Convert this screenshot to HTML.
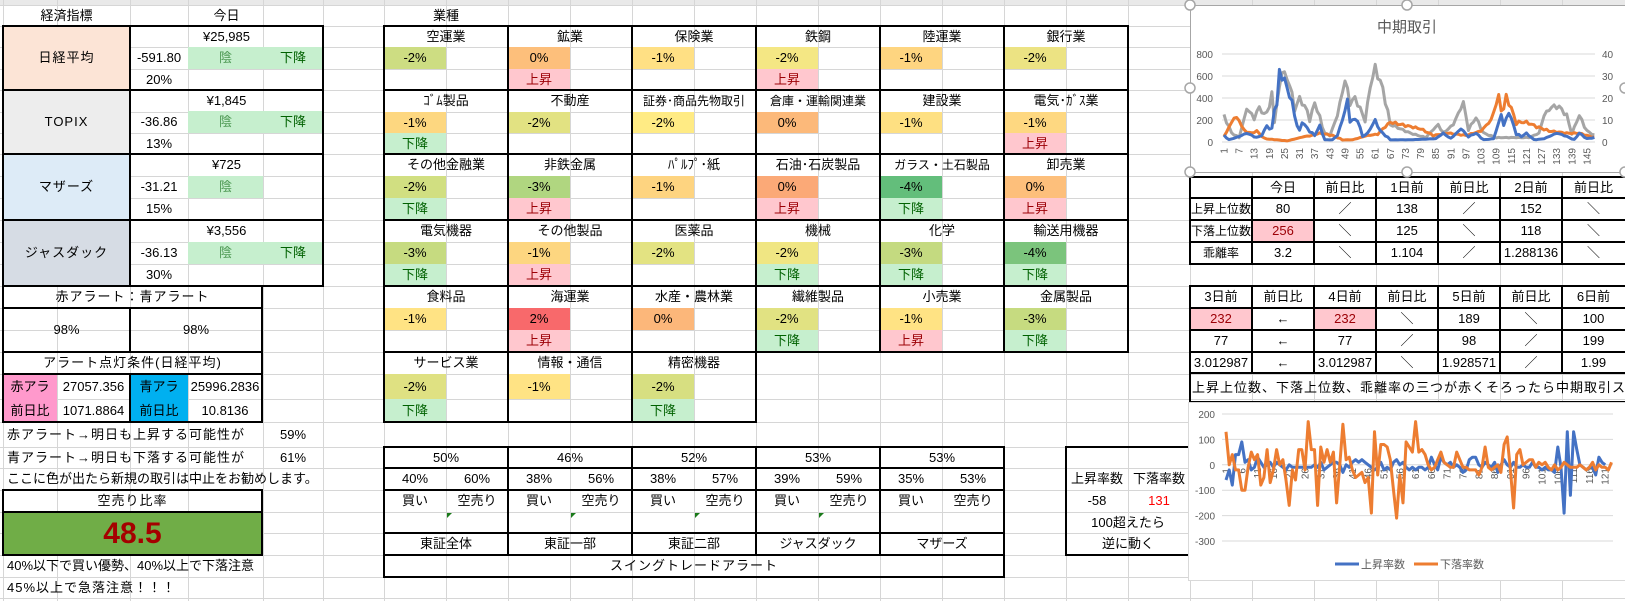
<!DOCTYPE html>
<html><head><meta charset="utf-8">
<style>
*{margin:0;padding:0;box-sizing:border-box}
body{width:1625px;height:601px;overflow:hidden;background:#fff;font-family:"Liberation Sans","Noto Sans CJK JP",sans-serif;font-size:13px;color:#000;position:relative}
.c{position:absolute;text-align:center;white-space:nowrap;overflow:hidden}
.b{position:absolute;border:2px solid #000}
svg{position:absolute;left:0;top:0}
</style></head><body>
<svg id="grid" width="1625" height="601"></svg>
<div id="r"></div>
<script>
var NS="http://www.w3.org/2000/svg";
var G=document.getElementById('grid');
function sv(p,tag,a,txt){var e=document.createElementNS(NS,tag);for(var k in a)e.setAttribute(k,a[k]);if(txt!==undefined)e.textContent=txt;p.appendChild(e);return e;}
var cols=[3,57,130,188,263,323,384,446,508,570,632,694,756,818,880,942,1004,1066,1128,1190,1252,1314,1376,1438,1500,1562];
var rows=[5,26,47,69,90,112,133,154,176,198,220,242,264,286,308,330,352,374,399,422,447,468,490,512,533,555,577,598];
sv(G,'rect',{x:0,y:0,width:1625,height:5,fill:'#e9e9e9'});
cols.forEach(function(x){sv(G,'line',{x1:x+.5,y1:0,x2:x+.5,y2:601,stroke:'#d6d6d6'})});
rows.forEach(function(y){sv(G,'line',{x1:0,y1:y+.5,x2:1625,y2:y+.5,stroke:'#d6d6d6'})});
var R=document.getElementById('r');
function c(x1,y1,x2,y2,t,o){o=o||{};var d=document.createElement('div');d.className='c';
var s=d.style;s.left=x1+'px';s.top=y1+'px';s.width=(x2-x1)+'px';s.height=(y2-y1)+'px';s.lineHeight=(y2-y1)+'px';
if(o.bg)s.background=o.bg;if(o.col)s.color=o.col;if(o.al){s.textAlign=o.al;s.paddingLeft=(o.pl||4)+'px';}
if(o.fs)s.fontSize=o.fs+'px';if(o.fw)s.fontWeight=o.fw;if(o.ls)s.letterSpacing=o.ls+'px';d.textContent=t||'';R.appendChild(d);return d;}
function b(x1,y1,x2,y2){var d=document.createElement('div');d.className='b';var s=d.style;s.left=(x1-1)+'px';s.top=(y1-1)+'px';s.width=(x2-x1+2)+'px';s.height=(y2-y1+2)+'px';R.appendChild(d);}
var GF='#c6efce',GT='#006100',PF='#ffc7ce',PT='#9c0006';
c(3,5,130,26,'経済指標');c(130,5,323,26,'今日');
var idx=[['日経平均','#fce4d6','¥25,985','-591.80','20%',1],['TOPIX','#ededed','¥1,845','-36.86','13%',1],['マザーズ','#ddebf7','¥725','-31.21','15%',0],['ジャスダック','#d6dce4','¥3,556','-36.13','30%',1]];
var tops=[26,90,154,220];
idx.forEach(function(d,i){var y=tops[i],y2=(i<3?tops[i+1]:286),h=(y2-y)/3;
c(3,y,130,y2,d[0],{bg:d[1],ls:1});
c(130,y,323,y+h,d[2]);
c(130,y+h,188,y+2*h,d[3]);
c(188,y+h,263,y+2*h,'陰',{bg:GF,col:'#4f9a55'});
if(d[5])c(263,y+h,323,y+2*h,'下降',{bg:GF,col:GT});
c(130,y+2*h,188,y2,d[4]);
b(3,y,130,y2);b(130,y,323,y2);});
c(3,286,262,308,'赤アラート：青アラート',{ls:1});b(3,286,262,308);
c(3,308,130,352,'98%');c(130,308,262,352,'98%');b(3,308,130,352);b(130,308,262,352);
c(3,352,262,374,'アラート点灯条件(日経平均)',{ls:1});b(3,352,262,374);
c(3,374,57,399,'赤アラ',{bg:'#ff99cc'});c(3,399,57,422,'前日比',{bg:'#ff99cc'});
c(57,374,130,399,'27057.356');c(57,399,130,422,'1071.8864');
c(130,374,188,399,'青アラ',{bg:'#00b0f0'});c(130,399,188,422,'前日比',{bg:'#00b0f0'});
c(188,374,262,399,'25996.2836');c(188,399,262,422,'10.8136');
b(3,374,130,422);b(130,374,262,422);
c(3,422,263,447,'赤アラート→明日も上昇する可能性が',{al:'left',pl:4,ls:1});c(263,422,323,447,'59%');
c(3,447,263,468,'青アラート→明日も下落する可能性が',{al:'left',pl:4,ls:1});c(263,447,323,468,'61%');
c(3,468,330,490,'ここに色が出たら新規の取引は中止をお勧めします。',{al:'left',pl:4});
c(3,490,262,512,'空売り比率',{ls:1});
c(3,512,262,555,'48.5',{bg:'#70ad47',col:'#a50000',fs:30,fw:'bold'});
b(3,490,262,555);b(3,490,262,512);
c(3,555,323,577,'40%以下で買い優勢、40%以上で下落注意',{al:'left',pl:4});
c(3,577,263,598,'45%以上で急落注意！！！',{al:'left',pl:4,ls:1});
c(384,5,508,26,'業種');
var sx=[384,508,632,756,880,1004,1128];
var sb=[[26,47,69,90],[90,112,133,154],[154,176,198,220],[220,242,264,286],[286,308,330,352],[352,374,399,422]];
var S=[
[['空運業','-2%','#cddd82',''],['鉱業','0%','#fdbf7b','u'],['保険業','-1%','#ffe084',''],['鉄鋼','-2%','#f4e784','u'],['陸運業','-1%','#fed580',''],['銀行業','-2%','#ece383','']],
[['ｺﾞﾑ製品','-1%','#fdd780','d'],['不動産','-2%','#e2e282',''],['証券･商品先物取引','-2%','#ffeb84',''],['倉庫・運輸関連業','0%','#fcb97a',''],['建設業','-1%','#fee082',''],['電気･ｶﾞｽ業','-1%','#fed881','u']],
[['その他金融業','-2%','#d1df81','d'],['非鉄金属','-3%','#b0d680','u'],['ﾊﾟﾙﾌﾟ･紙','-1%','#fed480',''],['石油･石炭製品','0%','#fba977','u'],['ガラス・土石製品','-4%','#63be7b','d'],['卸売業','0%','#fdbf7b','u']],
[['電気機器','-3%','#c6db80','d'],['その他製品','-1%','#fdd680','u'],['医薬品','-2%','#e3e382',''],['機械','-2%','#f0e683','d'],['化学','-3%','#c4da80','d'],['輸送用機器','-4%','#7bc47c','d']],
[['食料品','-1%','#ffe384',''],['海運業','2%','#f8696b','u'],['水産・農林業','0%','#fcb77a',''],['繊維製品','-2%','#e1e282','d'],['小売業','-1%','#ffe384','u'],['金属製品','-3%','#c6db80','d']],
[['サービス業','-2%','#dfe182','d'],['情報・通信','-1%','#ffe384',''],['精密機器','-2%','#d7df81','d']]];
S.forEach(function(r,ri){var y=sb[ri];r.forEach(function(s,ci){var x=sx[ci];
c(x,y[0],x+124,y[1],s[0],{fs:s[0].length>7?12:13});
c(x,y[1],x+62,y[2],s[1],{bg:s[2]});
if(s[3]=='u')c(x,y[2],x+62,y[3],'上昇',{bg:PF,col:PT});
if(s[3]=='d')c(x,y[2],x+62,y[3],'下降',{bg:GF,col:GT});
b(x,y[0],sx[ci+1],y[3]);});});
var sw=[['50%','40%','60%','東証全体'],['46%','38%','56%','東証一部'],['52%','38%','57%','東証二部'],['53%','39%','59%','ジャスダック'],['53%','35%','53%','マザーズ']];
sw.forEach(function(s,i){var x=sx[i];
c(x,447,x+124,468,s[0]);c(x,468,x+62,490,s[1]);c(x+62,468,x+124,490,s[2]);
c(x,490,x+62,512,'買い');c(x+62,490,x+124,512,'空売り');c(x,533,x+124,555,s[3]);
b(x,447,x+124,468);b(x,468,x+124,490);b(x,490,x+124,533);b(x,533,x+124,555);
if(i<4){var t=document.createElement('div');t.style.cssText='position:absolute;left:'+(x+63)+'px;top:513px;width:0;height:0;border-top:5px solid #1a7a1a;border-right:5px solid transparent';R.appendChild(t);}});
c(384,555,1004,577,'スイングトレードアラート',{ls:1});b(384,555,1004,577);
c(1066,468,1128,490,'上昇率数');c(1128,468,1190,490,'下落率数');
c(1066,490,1128,512,'-58');c(1128,490,1190,512,'131',{col:'#ff0000'});
c(1066,512,1190,533,'100超えたら');c(1066,533,1190,555,'逆に動く');
b(1066,447,1192,555);
var T1=[['','今日','前日比','1日前','前日比','2日前','前日比'],['上昇上位数','80','／','138','／','152','＼'],['下落上位数','256','＼','125','＼','118','＼'],['乖離率','3.2','＼','1.104','／','1.288136','＼']];
var rx=[1190,1252,1314,1376,1438,1500,1562,1625];
var ry1=[177,198,220,242,264];
T1.forEach(function(r,ri){r.forEach(function(t,ci){var o={};if(ri==2&&ci==1){o.bg=PF;o.col=PT;}if(ri>0&&ci==0){o.fs=12;}
c(rx[ci],ry1[ri],rx[ci+1],ry1[ri+1],t,o);b(rx[ci],ry1[ri],rx[ci+1]+(ci==6?4:0),ry1[ri+1]);});});
var T2=[['3日前','前日比','4日前','前日比','5日前','前日比','6日前'],['232','←','232','＼','189','＼','100'],['77','←','77','／','98','／','199'],['3.012987','←','3.012987','＼','1.928571','／','1.99']];
var ry2=[286,308,330,352,373];
T2.forEach(function(r,ri){r.forEach(function(t,ci){var o={};if(ri==1&&(ci==0||ci==2)){o.bg=PF;o.col=PT;}
c(rx[ci],ry2[ri],rx[ci+1],ry2[ri+1],t,o);b(rx[ci],ry2[ri],rx[ci+1]+(ci==6?4:0),ry2[ri+1]);});});
c(1190,373,1625,402,'上昇上位数、下落上位数、乖離率の三つが赤くそろったら中期取引スタート',{al:'left',pl:2,ls:1});
b(1190,373,1630,402);

var C=document.createElementNS(NS,'svg');C.setAttribute('width',1625);C.setAttribute('height',601);R.appendChild(C);
sv(C,'rect',{x:1190.5,y:5.5,width:450,height:167,fill:'#fff',stroke:'#a6a6a6'});
sv(C,'text',{x:1407,y:32,'font-size':15,fill:'#595959','text-anchor':'middle','font-family':'Liberation Sans,Noto Sans CJK JP,sans-serif'},'中期取引');
for(var k=0;k<=4;k++){var y=142-k*22;sv(C,'line',{x1:1222,y1:y,x2:1595,y2:y,stroke:'#d9d9d9'});
sv(C,'text',{x:1213,y:y+4,'font-size':10,fill:'#595959','text-anchor':'end'},String(k*200));
sv(C,'text',{x:1602,y:y+4,'font-size':10,fill:'#595959'},String(k*10));}
function X1(i){return 1224+(i-1)*2.52;}
for(var i=1;i<=145;i+=6){sv(C,'text',{transform:'translate('+(X1(i)+3.5)+',148) rotate(-90)','font-size':10,fill:'#595959','text-anchor':'end'},String(i));}
function interp(kp,n){var out=[];for(var i=1;i<=n;i++){for(var j=0;j<kp.length-1;j++){if(i>=kp[j][0]&&i<=kp[j+1][0]){var t=(i-kp[j][0])/((kp[j+1][0]-kp[j][0])||1);out.push(kp[j][1]+(kp[j+1][1]-kp[j][1])*t+Math.sin(i*2.3)*0.06*Math.abs(kp[j][1]));break;}}}return out;}
var gray=[[1,12],[4,4],[7,2],[10,15],[13,11],[15,16],[17,12],[19,16],[20,22],[21,10],[24,32],[27,27],[29,15],[31,20],[34,14],[35,10],[37,18],[41,4],[43,3],[46,12],[49,28],[51,18],[53,20],[57,10],[59,25],[61,34],[64,24],[67,8],[71,6],[75,4],[81,2],[86,8],[88,4],[92,8],[96,18],[98,6],[101,11],[104,4],[109,2],[115,2],[122,2],[126,4],[128,12],[131,16],[134,16],[137,12],[139,4],[142,12],[145,5],[148,3]].map(function(p){return [p[0],p[1]*20]});
var orng=[[1,50],[5,220],[7,200],[9,100],[12,80],[14,100],[17,30],[22,20],[26,10],[33,50],[36,60],[39,80],[44,60],[48,20],[52,20],[58,60],[62,70],[64,120],[67,180],[73,150],[79,120],[84,60],[90,80],[97,60],[103,100],[107,200],[110,420],[111,300],[112,300],[113,420],[117,180],[121,180],[125,140],[130,100],[137,80],[142,80],[148,40]];
var blue=[[1,60],[3,20],[7,50],[10,80],[14,40],[16,60],[18,150],[19,120],[20,120],[21,300],[22,330],[23,650],[25,550],[26,500],[28,350],[30,150],[31,100],[32,180],[35,100],[37,60],[39,150],[41,20],[44,20],[46,60],[48,200],[50,380],[51,200],[54,200],[56,50],[58,80],[61,200],[63,100],[67,20],[75,20],[85,30],[88,80],[91,30],[95,120],[98,50],[101,80],[104,20],[108,30],[111,250],[112,150],[114,270],[117,80],[119,50],[121,80],[124,20],[128,30],[133,80],[136,60],[140,20],[142,80],[145,30],[148,40]];
function line1(kp,col){var v=interp(kp,148);var p=v.map(function(a,i){return X1(i+1).toFixed(1)+','+(142-Math.max(0,a)*0.11).toFixed(1)}).join(' ');sv(C,'polyline',{points:p,fill:'none',stroke:col,'stroke-width':3,'stroke-linejoin':'round'});}
line1(gray,'#a5a5a5');line1(orng,'#ed7d31');line1(blue,'#4472c4');
[[1190,5],[1407,5],[1190,88],[1190,172],[1407,172],[1625,88],[1625,172]].forEach(function(p){sv(C,'circle',{cx:p[0],cy:p[1],r:5,fill:'#fff',stroke:'#a6a6a6','stroke-width':1.5});});

sv(C,'rect',{x:1188.5,y:402.5,width:440,height:178,fill:'#fff',stroke:'#d9d9d9'});
var lab=[200,100,0,-100,-200,-300];
lab.forEach(function(v,k){var y=414+k*25.4;sv(C,'line',{x1:1222,y1:y,x2:1613,y2:y,stroke:'#d9d9d9'});sv(C,'text',{x:1215,y:y+4,'font-size':10,fill:'#595959','text-anchor':'end'},String(v));});
function X2(i){return 1226+(i-1)*3.16;}
function Y2(v){return 464.8-v*0.254;}
for(var i=1;i<=121;i+=5){sv(C,'text',{transform:'translate('+(X2(i)+3.5)+',468) rotate(-90)','font-size':10,fill:'#595959','text-anchor':'end'},String(i));}
var O2=[130,0,40,-20,-20,-100,-100,-10,50,20,40,-80,-50,60,-70,-20,60,0,20,-60,-160,-20,-60,60,60,-20,170,60,60,-160,70,10,60,10,50,-150,0,160,20,30,-20,-50,-40,-30,-70,-50,-190,130,-40,80,80,70,20,-100,-210,-40,-150,90,70,50,170,50,60,40,0,-20,-10,20,50,10,0,-10,-10,50,20,-10,-10,-20,-20,-20,-40,-10,70,-10,-20,-10,0,-30,80,110,-20,-170,40,60,0,10,20,20,-10,10,0,10,-10,-20,0,-20,-10,10,0,-10,-10,-10,0,-10,-20,-10,10,-20,0,-10,-10,-20,10];
var B2=[-60,-20,-80,40,40,90,10,20,-20,-10,30,10,-10,0,10,-10,10,0,-10,-20,0,-10,-10,-10,-10,-10,-10,-10,0,-10,10,-20,-10,0,10,10,0,-30,0,-10,10,20,10,20,10,0,-10,-20,-10,10,-20,-10,-20,10,20,0,10,-10,-20,-10,-20,-10,-10,-20,-10,30,0,-20,30,10,0,10,-10,0,-10,-30,-20,20,30,30,0,-10,10,0,-10,10,-30,0,20,0,-10,10,-10,-10,0,-10,-10,10,-10,-10,-20,-10,-20,-20,-30,70,-10,-190,130,-120,130,60,0,-10,-20,-10,-10,-40,30,10,0];
function line2(a,col){sv(C,'polyline',{points:a.map(function(v,i){return X2(i+1).toFixed(1)+','+Y2(v).toFixed(1)}).join(' '),fill:'none',stroke:col,'stroke-width':3,'stroke-linejoin':'round'});}
line2(B2,'#4472c4');line2(O2,'#ed7d31');
sv(C,'line',{x1:1335,y1:564,x2:1359,y2:564,stroke:'#4472c4','stroke-width':3});
sv(C,'text',{x:1361,y:568,'font-size':11,fill:'#595959'},'上昇率数');
sv(C,'line',{x1:1414,y1:564,x2:1438,y2:564,stroke:'#ed7d31','stroke-width':3});
sv(C,'text',{x:1440,y:568,'font-size':11,fill:'#595959'},'下落率数');
</script>
</body></html>
